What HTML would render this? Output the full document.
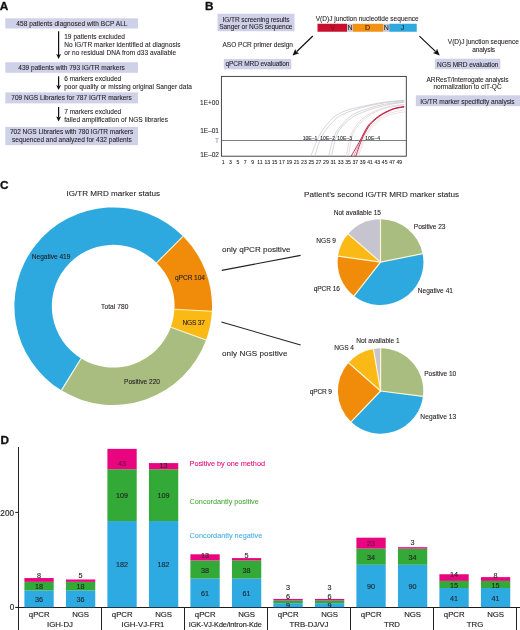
<!DOCTYPE html>
<html lang="en"><head><meta charset="utf-8"><title>Figure</title>
<style>
html,body{margin:0;padding:0;background:#fff;}
#fig{position:relative;width:520px;height:630px;overflow:hidden;background:#fff;font-family:"Liberation Sans",sans-serif;will-change:transform;}
#fig svg{position:absolute;left:0;top:0;}
#fig span{position:absolute;white-space:nowrap;line-height:1;display:block;-webkit-text-stroke:0.08px currentColor;}
</style></head>
<body>
<div id="fig">
<svg width="520" height="630" viewBox="0 0 520 630">
<rect x="5.30" y="18.30" width="132.70" height="10.20" fill="#cfd1e9"/>
<line x1="58.60" y1="31.20" x2="58.60" y2="54.90" stroke="#111" stroke-width="1.2"/>
<polygon points="58.60,58.90 56.20,53.90 58.60,55.10 61.00,53.90" fill="#111"/>
<rect x="5.30" y="62.25" width="132.70" height="10.55" fill="#cfd1e9"/>
<line x1="58.60" y1="76.20" x2="58.60" y2="86.10" stroke="#111" stroke-width="1.2"/>
<polygon points="58.60,90.10 56.20,85.10 58.60,86.30 61.00,85.10" fill="#111"/>
<rect x="5.30" y="92.40" width="132.70" height="11.00" fill="#cfd1e9"/>
<line x1="58.60" y1="107.00" x2="58.60" y2="117.40" stroke="#111" stroke-width="1.2"/>
<polygon points="58.60,121.40 56.20,116.40 58.60,117.60 61.00,116.40" fill="#111"/>
<rect x="5.30" y="126.90" width="132.70" height="18.30" fill="#cfd1e9"/>
<rect x="217.50" y="13.75" width="77.00" height="17.50" fill="#cfd1e9"/>
<rect x="223.80" y="59.00" width="67.50" height="10.30" fill="#cfd1e9"/>
<line x1="312.80" y1="36.00" x2="296.55" y2="51.77" stroke="#111" stroke-width="1.2"/>
<polygon points="292.60,55.60 295.18,48.92 296.40,51.91 299.35,53.23" fill="#111"/>
<rect x="317.50" y="23.75" width="29.50" height="8.00" fill="#c8102e"/>
<rect x="347.00" y="23.75" width="6.00" height="8.00" fill="#c9c8d0"/>
<rect x="353.00" y="23.75" width="30.00" height="8.00" fill="#f29112"/>
<rect x="383.00" y="23.75" width="6.25" height="8.00" fill="#c9c8d0"/>
<rect x="389.25" y="23.75" width="27.50" height="8.00" fill="#2ea9e0"/>
<line x1="419.40" y1="36.10" x2="435.71" y2="51.61" stroke="#111" stroke-width="1.2"/>
<polygon points="439.70,55.40 432.92,53.10 435.86,51.75 437.06,48.75" fill="#111"/>
<rect x="434.80" y="58.70" width="65.60" height="10.50" fill="#cfd1e9"/>
<rect x="415.80" y="95.30" width="104.20" height="10.90" fill="#cfd1e9"/>
<rect x="221.4" y="76.4" width="184.90" height="79.80" fill="#fff" stroke="#333" stroke-width="0.9"/>
<path d="M310.8,156.2 C311.9,153.5 315.1,144.7 317.1,140.3 C319.1,135.9 320.3,133.3 322.9,129.6 C325.5,125.9 329.6,120.9 332.7,118.1 C335.8,115.2 338.4,114.0 341.3,112.5 C344.2,111.0 346.6,110.3 350.0,109.3 C353.4,108.3 357.6,107.4 361.5,106.6 C365.4,105.8 369.2,105.0 373.1,104.2 C377.0,103.5 380.8,102.6 384.6,102.1 C388.5,101.5 392.9,101.2 396.2,100.9 C399.5,100.6 402.9,100.3 404.2,100.2" fill="none" stroke="#c4c4c9" stroke-width="0.7" stroke-opacity="1.0"/>
<path d="M314.8,156.2 C315.7,153.5 318.1,144.7 320.0,140.3 C321.9,135.9 323.5,133.3 326.3,129.6 C329.1,125.9 333.1,121.0 336.7,118.1 C340.3,115.2 343.6,114.0 347.7,112.3 C351.8,110.6 357.3,109.0 361.5,107.8 C365.7,106.6 369.2,105.7 373.1,104.9 C377.0,104.1 380.8,103.4 384.6,102.8 C388.5,102.2 392.9,101.8 396.2,101.5 C399.5,101.2 402.9,100.9 404.2,100.8" fill="none" stroke="#c4c4c9" stroke-width="0.7" stroke-opacity="1.0"/>
<path d="M328.7,156.2 C329.4,153.5 331.2,144.7 332.7,140.3 C334.2,135.9 335.3,133.3 337.9,129.6 C340.5,125.9 345.0,121.0 348.3,118.1 C351.6,115.2 353.4,114.1 357.5,112.3 C361.6,110.5 368.6,108.3 373.1,107.0 C377.6,105.7 380.8,105.0 384.6,104.3 C388.5,103.6 392.9,103.1 396.2,102.6 C399.5,102.1 402.9,101.7 404.2,101.5" fill="none" stroke="#c4c4c9" stroke-width="0.7" stroke-opacity="1.0"/>
<path d="M331.5,156.2 C332.1,153.5 333.8,144.7 335.2,140.3 C336.6,135.9 336.9,133.3 339.6,129.6 C342.3,125.9 347.4,121.0 351.2,118.1 C355.0,115.2 359.0,113.9 362.7,112.3 C366.4,110.7 369.5,109.7 373.1,108.6 C376.8,107.5 380.8,106.4 384.6,105.5 C388.5,104.6 392.9,103.9 396.2,103.4 C399.5,102.9 402.9,102.5 404.2,102.3" fill="none" stroke="#c4c4c9" stroke-width="0.7" stroke-opacity="1.0"/>
<path d="M346.5,156.2 C347.0,153.5 348.2,144.7 349.4,140.3 C350.6,135.9 351.5,133.1 353.5,129.6 C355.5,126.1 358.2,122.4 361.5,119.5 C364.8,116.6 369.2,114.0 373.1,112.0 C377.0,110.0 380.8,108.7 384.6,107.6 C388.5,106.5 392.9,105.9 396.2,105.4 C399.5,104.9 402.9,104.6 404.2,104.4" fill="none" stroke="#eccdd3" stroke-width="0.8" stroke-opacity="1.0"/>
<path d="M348.3,156.2 C348.8,153.5 350.1,144.7 351.2,140.3 C352.3,135.9 353.1,133.0 355.2,129.6 C357.3,126.2 360.8,122.5 363.8,119.8 C366.8,117.1 369.6,115.1 373.1,113.2 C376.6,111.3 380.8,109.7 384.6,108.5 C388.5,107.3 392.9,106.6 396.2,106.0 C399.5,105.4 402.9,105.1 404.2,104.9" fill="none" stroke="#d9d3d8" stroke-width="0.7" stroke-opacity="1.0"/>
<path d="M357.0,156.2 C358.0,153.5 361.0,145.1 363.2,140.3 C365.4,135.5 367.9,130.6 370.0,127.5 C372.1,124.4 373.6,123.6 376.0,121.6 C378.4,119.5 381.2,116.9 384.6,115.2 C388.0,113.5 392.9,112.3 396.2,111.4 C399.5,110.5 402.9,110.2 404.2,110.0" fill="none" stroke="#cfe0d6" stroke-width="0.7" stroke-opacity="1.0"/>
<path d="M358.4,156.2 C359.4,153.6 362.4,145.2 364.6,140.5 C366.8,135.9 369.3,131.1 371.4,128.0 C373.5,125.0 375.0,124.3 377.4,122.4 C379.8,120.4 382.6,117.9 386.0,116.3 C389.4,114.7 394.3,113.7 397.6,113.0 C400.9,112.2 404.3,112.1 405.6,111.9" fill="none" stroke="#eccdd3" stroke-width="0.6" stroke-opacity="1.0"/>
<path d="M353.8,156.2 C355.0,153.5 358.5,145.2 360.8,140.3 C363.1,135.4 365.7,130.2 367.8,126.9 C369.9,123.6 371.6,122.5 373.5,120.7 C375.4,118.9 377.2,117.4 379.1,116.1 C381.0,114.8 382.9,113.7 384.8,112.7 C386.7,111.7 388.6,110.8 390.5,110.0 C392.4,109.2 393.9,108.6 396.2,108.1 C398.5,107.6 402.9,107.0 404.2,106.8" fill="none" stroke="#d4627a" stroke-width="0.6" stroke-opacity="1.0"/>
<path d="M351.2,156.2 C352.7,153.5 357.5,145.2 360.2,140.3 C362.9,135.4 365.1,130.2 367.3,126.9 C369.5,123.6 371.2,122.4 373.1,120.6 C375.0,118.8 376.9,117.3 378.8,116.0 C380.7,114.7 382.7,113.5 384.6,112.5 C386.5,111.5 388.5,110.6 390.4,109.8 C392.3,109.0 393.9,108.5 396.2,107.9 C398.5,107.3 402.9,106.7 404.2,106.4" fill="none" stroke="#c2183c" stroke-width="0.9" stroke-opacity="1.0"/>
<path d="M355.8,156.2 C356.8,153.5 359.4,145.2 361.5,140.3 C363.6,135.4 366.4,130.2 368.5,126.9 C370.6,123.7 372.2,122.6 374.0,120.8 C375.8,119.0 377.7,117.6 379.5,116.3 C381.3,115.0 383.1,113.9 385.0,112.9 C386.9,111.9 388.7,111.0 390.6,110.2 C392.5,109.4 393.9,108.8 396.2,108.3 C398.5,107.8 402.9,107.3 404.2,107.1" fill="none" stroke="#c2183c" stroke-width="0.9" stroke-opacity="1.0"/>
<line x1="221.40" y1="140.50" x2="406.30" y2="140.50" stroke="#4f5a69" stroke-width="0.75"/>
<path d="M61.41,390.34 A98.8,98.8 0 1 1 183.06,236.34 L156.58,262.82 A61.35,61.35 0 1 0 81.04,358.44 Z" fill="#2ea9e0"/>
<path d="M183.06,236.34 A98.8,98.8 0 0 1 211.87,311.20 L174.47,309.30 A61.35,61.35 0 0 0 156.58,262.82 Z" fill="#f08c0a"/>
<path d="M211.87,311.20 A98.8,98.8 0 0 1 206.04,339.99 L170.85,327.18 A61.35,61.35 0 0 0 174.47,309.30 Z" fill="#fab914"/>
<path d="M206.04,339.99 A98.8,98.8 0 0 1 61.41,390.34 L81.04,358.44 A61.35,61.35 0 0 0 170.85,327.18 Z" fill="#aabd81"/>
<line x1="81.04" y1="358.44" x2="61.41" y2="390.34" stroke="#f6f8f0" stroke-width="1.1"/>
<line x1="156.58" y1="262.82" x2="183.06" y2="236.34" stroke="#fdf0d2" stroke-width="1.1"/>
<line x1="174.47" y1="309.30" x2="211.87" y2="311.20" stroke="#fff0b8" stroke-width="1.1"/>
<line x1="170.85" y1="327.18" x2="206.04" y2="339.99" stroke="#fbf3cf" stroke-width="1.1"/>
<line x1="221.80" y1="270.40" x2="300.60" y2="255.40" stroke="#222" stroke-width="1.1"/>
<line x1="221.40" y1="322.00" x2="300.60" y2="345.00" stroke="#222" stroke-width="1.1"/>
<path d="M380.50,262.10 L380.50,219.20 A42.9,42.9 0 0 1 422.57,253.69 Z" fill="#aabd81"/>
<path d="M380.50,262.10 L422.57,253.69 A42.9,42.9 0 0 1 354.09,295.91 Z" fill="#2ea9e0"/>
<path d="M380.50,262.10 L354.09,295.91 A42.9,42.9 0 0 1 338.02,256.13 Z" fill="#f08c0a"/>
<path d="M380.50,262.10 L338.02,256.13 A42.9,42.9 0 0 1 348.12,233.96 Z" fill="#fab914"/>
<path d="M380.50,262.10 L348.12,233.96 A42.9,42.9 0 0 1 380.50,219.20 Z" fill="#c6c5cf"/>
<line x1="380.50" y1="262.10" x2="380.50" y2="219.20" stroke="#fff4d2" stroke-width="1.2" stroke-linecap="round"/>
<line x1="380.50" y1="262.10" x2="422.57" y2="253.69" stroke="#fff4d2" stroke-width="1.2" stroke-linecap="round"/>
<line x1="380.50" y1="262.10" x2="354.09" y2="295.91" stroke="#fff4d2" stroke-width="1.2" stroke-linecap="round"/>
<line x1="380.50" y1="262.10" x2="338.02" y2="256.13" stroke="#fff4d2" stroke-width="1.2" stroke-linecap="round"/>
<line x1="380.50" y1="262.10" x2="348.12" y2="233.96" stroke="#fff4d2" stroke-width="1.2" stroke-linecap="round"/>
<path d="M380.60,391.00 L380.60,348.30 A42.7,42.7 0 0 1 422.95,396.42 Z" fill="#aabd81"/>
<path d="M380.60,391.00 L422.95,396.42 A42.7,42.7 0 0 1 351.05,421.83 Z" fill="#2ea9e0"/>
<path d="M380.60,391.00 L351.05,421.83 A42.7,42.7 0 0 1 348.55,362.79 Z" fill="#f08c0a"/>
<path d="M380.60,391.00 L348.55,362.79 A42.7,42.7 0 0 1 373.38,348.91 Z" fill="#fab914"/>
<path d="M380.60,391.00 L373.38,348.91 A42.7,42.7 0 0 1 380.60,348.30 Z" fill="#c6c5cf"/>
<line x1="380.60" y1="391.00" x2="380.60" y2="348.30" stroke="#fff4d2" stroke-width="1.2" stroke-linecap="round"/>
<line x1="380.60" y1="391.00" x2="422.95" y2="396.42" stroke="#fff4d2" stroke-width="1.2" stroke-linecap="round"/>
<line x1="380.60" y1="391.00" x2="351.05" y2="421.83" stroke="#fff4d2" stroke-width="1.2" stroke-linecap="round"/>
<line x1="380.60" y1="391.00" x2="348.55" y2="362.79" stroke="#fff4d2" stroke-width="1.2" stroke-linecap="round"/>
<line x1="380.60" y1="391.00" x2="373.38" y2="348.91" stroke="#fff4d2" stroke-width="1.2" stroke-linecap="round"/>
<line x1="18.50" y1="447.00" x2="18.50" y2="630.00" stroke="#222" stroke-width="1.0"/>
<line x1="18.00" y1="607.45" x2="520.00" y2="607.45" stroke="#1c1c1c" stroke-width="1.1"/>
<line x1="15.20" y1="512.40" x2="18.50" y2="512.40" stroke="#222" stroke-width="1.0"/>
<line x1="15.20" y1="607.45" x2="18.50" y2="607.45" stroke="#1c1c1c" stroke-width="1.1"/>
<line x1="101.50" y1="607.50" x2="101.50" y2="630.00" stroke="#222" stroke-width="1.0"/>
<line x1="184.50" y1="607.50" x2="184.50" y2="630.00" stroke="#222" stroke-width="1.0"/>
<line x1="267.50" y1="607.50" x2="267.50" y2="630.00" stroke="#222" stroke-width="1.0"/>
<line x1="350.50" y1="607.50" x2="350.50" y2="630.00" stroke="#222" stroke-width="1.0"/>
<line x1="433.50" y1="607.50" x2="433.50" y2="630.00" stroke="#222" stroke-width="1.0"/>
<line x1="516.50" y1="607.50" x2="516.50" y2="630.00" stroke="#222" stroke-width="1.0"/>
<rect x="24.40" y="590.40" width="29.30" height="16.80" fill="#2eaae2"/>
<rect x="24.40" y="581.85" width="29.30" height="8.55" fill="#33a938"/>
<rect x="24.40" y="578.05" width="29.30" height="3.80" fill="#e90580"/>
<rect x="65.95" y="590.40" width="29.30" height="16.80" fill="#2eaae2"/>
<rect x="65.95" y="581.85" width="29.30" height="8.55" fill="#33a938"/>
<rect x="65.95" y="579.48" width="29.30" height="2.38" fill="#e90580"/>
<rect x="107.40" y="521.05" width="29.30" height="86.15" fill="#2eaae2"/>
<rect x="107.40" y="469.27" width="29.30" height="51.77" fill="#33a938"/>
<rect x="107.40" y="448.85" width="29.30" height="20.43" fill="#e90580"/>
<rect x="148.95" y="521.05" width="29.30" height="86.15" fill="#2eaae2"/>
<rect x="148.95" y="469.27" width="29.30" height="51.77" fill="#33a938"/>
<rect x="148.95" y="463.10" width="29.30" height="6.18" fill="#e90580"/>
<rect x="190.40" y="578.52" width="29.30" height="28.68" fill="#2eaae2"/>
<rect x="190.40" y="560.48" width="29.30" height="18.05" fill="#33a938"/>
<rect x="190.40" y="554.30" width="29.30" height="6.17" fill="#e90580"/>
<rect x="231.95" y="578.52" width="29.30" height="28.68" fill="#2eaae2"/>
<rect x="231.95" y="560.48" width="29.30" height="18.05" fill="#33a938"/>
<rect x="231.95" y="558.10" width="29.30" height="2.38" fill="#e90580"/>
<rect x="273.40" y="603.23" width="29.30" height="3.98" fill="#2eaae2"/>
<rect x="273.40" y="600.38" width="29.30" height="2.85" fill="#33a938"/>
<rect x="273.40" y="598.95" width="29.30" height="1.42" fill="#e90580"/>
<rect x="314.95" y="603.23" width="29.30" height="3.98" fill="#2eaae2"/>
<rect x="314.95" y="600.38" width="29.30" height="2.85" fill="#33a938"/>
<rect x="314.95" y="598.95" width="29.30" height="1.42" fill="#e90580"/>
<rect x="356.40" y="564.75" width="29.30" height="42.45" fill="#2eaae2"/>
<rect x="356.40" y="548.60" width="29.30" height="16.15" fill="#33a938"/>
<rect x="356.40" y="537.68" width="29.30" height="10.92" fill="#e90580"/>
<rect x="397.95" y="564.75" width="29.30" height="42.45" fill="#2eaae2"/>
<rect x="397.95" y="548.60" width="29.30" height="16.15" fill="#33a938"/>
<rect x="397.95" y="547.18" width="29.30" height="1.42" fill="#e90580"/>
<rect x="439.40" y="588.02" width="29.30" height="19.18" fill="#2eaae2"/>
<rect x="439.40" y="580.90" width="29.30" height="7.12" fill="#33a938"/>
<rect x="439.40" y="574.25" width="29.30" height="6.65" fill="#e90580"/>
<rect x="480.95" y="588.02" width="29.30" height="19.18" fill="#2eaae2"/>
<rect x="480.95" y="580.90" width="29.30" height="7.12" fill="#33a938"/>
<rect x="480.95" y="577.10" width="29.30" height="3.80" fill="#e90580"/>
</svg>
<span style="top:0.94px;font-size:11.8px;color:#111;font-weight:bold;-webkit-text-stroke:0.3px #111;left:-0.27px;">A</span>
<span style="top:21.10px;font-size:6.55px;color:#231f20;letter-spacing:0.053px;left:16.25px;">458 patients diagnosed with BCP ALL</span>
<span style="top:34.30px;font-size:6.55px;color:#231f20;letter-spacing:0.039px;left:64.20px;">19 patients excluded</span>
<span style="top:42.30px;font-size:6.55px;color:#231f20;letter-spacing:0.044px;left:64.20px;">No IG/TR marker identified at diagnosis</span>
<span style="top:49.80px;font-size:6.55px;color:#231f20;letter-spacing:0.050px;left:64.20px;">or no residual DNA from d33 available</span>
<span style="top:64.70px;font-size:6.55px;color:#231f20;left:18.25px;">439 patients with 793 IG/TR markers</span>
<span style="top:75.90px;font-size:6.55px;color:#231f20;letter-spacing:-0.005px;left:64.20px;">6 markers excluded</span>
<span style="top:83.90px;font-size:6.55px;color:#231f20;letter-spacing:0.044px;left:64.20px;">poor quality or missing original Sanger data</span>
<span style="top:95.30px;font-size:6.55px;color:#231f20;letter-spacing:-0.008px;left:11.25px;">709 NGS Libraries for 787 IG/TR markers</span>
<span style="top:109.30px;font-size:6.55px;color:#231f20;letter-spacing:-0.005px;left:64.20px;">7 markers excluded</span>
<span style="top:116.80px;font-size:6.55px;color:#231f20;letter-spacing:0.053px;left:64.20px;">failed amplification of NGS libraries</span>
<span style="top:129.20px;font-size:6.55px;color:#231f20;letter-spacing:-0.040px;left:10.00px;">702 NGS Libraries with 780 IG/TR markers</span>
<span style="top:137.40px;font-size:6.55px;color:#231f20;left:12.00px;">sequenced and analyzed for 432 patients</span>
<span style="top:0.84px;font-size:11.8px;color:#111;font-weight:bold;-webkit-text-stroke:0.3px #111;left:205.08px;">B</span>
<span style="top:16.60px;font-size:6.55px;color:#231f20;letter-spacing:-0.080px;left:222.50px;">IG/TR screening results</span>
<span style="top:23.90px;font-size:6.55px;color:#231f20;letter-spacing:-0.083px;left:219.25px;">Sanger or NGS sequence</span>
<span style="top:42.20px;font-size:6.55px;color:#231f20;letter-spacing:-0.023px;left:222.50px;">ASO PCR primer design</span>
<span style="top:61.40px;font-size:6.55px;color:#231f20;letter-spacing:-0.103px;left:225.50px;">qPCR MRD evaluation</span>
<span style="top:16.25px;font-size:6.55px;color:#231f20;left:315.75px;">V(D)J junction nucleotide sequence</span>
<span style="top:24.40px;font-size:7px;color:#8e0b22;left:330.16px;">V</span>
<span style="top:24.40px;font-size:7px;color:#231f20;left:347.47px;">N</span>
<span style="top:24.40px;font-size:7px;color:#231f20;left:364.97px;">D</span>
<span style="top:24.40px;font-size:7px;color:#231f20;left:383.67px;">N</span>
<span style="top:24.40px;font-size:7px;color:#231f20;left:400.75px;">J</span>
<span style="top:38.50px;font-size:6.55px;color:#231f20;letter-spacing:-0.010px;left:447.80px;">V(D)J junction sequence</span>
<span style="top:46.60px;font-size:6.55px;color:#231f20;letter-spacing:-0.122px;left:472.20px;">analysis</span>
<span style="top:61.50px;font-size:6.55px;color:#231f20;letter-spacing:-0.070px;left:437.00px;">NGS MRD evaluation</span>
<span style="top:76.70px;font-size:6.55px;color:#231f20;letter-spacing:-0.066px;left:426.50px;">ARResT/Interrogate analysis</span>
<span style="top:84.10px;font-size:6.55px;color:#231f20;letter-spacing:-0.030px;left:433.50px;">normalization to cIT-QC</span>
<span style="top:98.90px;font-size:6.55px;color:#231f20;letter-spacing:-0.029px;left:420.20px;">IG/TR marker specificity analysis</span>
<span style="top:100.20px;font-size:6.5px;color:#231f20;left:200.02px;">1E+00</span>
<span style="top:127.50px;font-size:6.5px;color:#231f20;left:200.20px;">1E–01</span>
<span style="top:152.00px;font-size:6.5px;color:#231f20;left:200.20px;">1E–02</span>
<span style="top:137.70px;font-size:6.5px;color:#7f9bb5;left:215.02px;">T</span>
<span style="top:135.50px;font-size:5.1px;color:#231f20;letter-spacing:-0.059px;left:302.80px;">10E–1</span>
<span style="top:135.50px;font-size:5.1px;color:#231f20;letter-spacing:-0.009px;left:320.30px;">10E–2</span>
<span style="top:135.50px;font-size:5.1px;color:#231f20;letter-spacing:0.016px;left:337.20px;">10E–3</span>
<span style="top:135.50px;font-size:5.1px;color:#231f20;letter-spacing:-0.009px;left:365.30px;">10E–4</span>
<span style="top:160.10px;font-size:5.1px;color:#231f20;left:221.78px;">1</span>
<span style="top:160.10px;font-size:5.1px;color:#231f20;left:229.12px;">3</span>
<span style="top:160.10px;font-size:5.1px;color:#231f20;left:236.46px;">5</span>
<span style="top:160.10px;font-size:5.1px;color:#231f20;left:243.80px;">7</span>
<span style="top:160.10px;font-size:5.1px;color:#231f20;left:251.14px;">9</span>
<span style="top:160.10px;font-size:5.1px;color:#231f20;left:257.25px;">11</span>
<span style="top:160.10px;font-size:5.1px;color:#231f20;left:264.40px;">13</span>
<span style="top:160.10px;font-size:5.1px;color:#231f20;left:271.74px;">15</span>
<span style="top:160.10px;font-size:5.1px;color:#231f20;left:279.08px;">17</span>
<span style="top:160.10px;font-size:5.1px;color:#231f20;left:286.42px;">19</span>
<span style="top:160.10px;font-size:5.1px;color:#231f20;left:293.76px;">21</span>
<span style="top:160.10px;font-size:5.1px;color:#231f20;left:301.10px;">23</span>
<span style="top:160.10px;font-size:5.1px;color:#231f20;left:308.44px;">25</span>
<span style="top:160.10px;font-size:5.1px;color:#231f20;left:315.78px;">27</span>
<span style="top:160.10px;font-size:5.1px;color:#231f20;left:323.12px;">29</span>
<span style="top:160.10px;font-size:5.1px;color:#231f20;left:330.46px;">31</span>
<span style="top:160.10px;font-size:5.1px;color:#231f20;left:337.80px;">33</span>
<span style="top:160.10px;font-size:5.1px;color:#231f20;left:345.14px;">35</span>
<span style="top:160.10px;font-size:5.1px;color:#231f20;left:352.48px;">37</span>
<span style="top:160.10px;font-size:5.1px;color:#231f20;left:359.82px;">39</span>
<span style="top:160.10px;font-size:5.1px;color:#231f20;left:367.16px;">41</span>
<span style="top:160.10px;font-size:5.1px;color:#231f20;left:374.50px;">43</span>
<span style="top:160.10px;font-size:5.1px;color:#231f20;left:381.84px;">45</span>
<span style="top:160.10px;font-size:5.1px;color:#231f20;left:389.18px;">47</span>
<span style="top:160.10px;font-size:5.1px;color:#231f20;left:396.52px;">49</span>
<span style="top:179.74px;font-size:11.8px;color:#111;font-weight:bold;-webkit-text-stroke:0.3px #111;left:0.08px;">C</span>
<span style="top:190.10px;font-size:8.1px;color:#231f20;-webkit-text-stroke:0.1px currentColor;left:66.50px;">IG/TR MRD marker status</span>
<span style="top:190.80px;font-size:8.1px;color:#231f20;-webkit-text-stroke:0.1px currentColor;left:304.00px;">Patient’s second IG/TR MRD marker status</span>
<span style="top:253.50px;font-size:6.6px;color:#231f20;-webkit-text-stroke:0.1px currentColor;letter-spacing:-0.024px;left:31.80px;">Negative 419</span>
<span style="top:275.00px;font-size:6.6px;color:#231f20;-webkit-text-stroke:0.1px currentColor;letter-spacing:-0.062px;left:175.00px;">qPCR 104</span>
<span style="top:320.00px;font-size:6.6px;color:#231f20;-webkit-text-stroke:0.1px currentColor;letter-spacing:-0.194px;left:182.50px;">NGS 37</span>
<span style="top:379.00px;font-size:6.6px;color:#231f20;-webkit-text-stroke:0.1px currentColor;letter-spacing:0.007px;left:124.00px;">Positive 220</span>
<span style="top:304.00px;font-size:6.6px;color:#231f20;-webkit-text-stroke:0.1px currentColor;letter-spacing:0.092px;left:101.00px;">Total 780</span>
<span style="top:245.70px;font-size:8.1px;color:#231f20;-webkit-text-stroke:0.1px currentColor;letter-spacing:0.006px;left:222.00px;">only qPCR positive</span>
<span style="top:350.00px;font-size:8.1px;color:#231f20;-webkit-text-stroke:0.1px currentColor;letter-spacing:0.073px;left:222.00px;">only NGS positive</span>
<span style="top:209.50px;font-size:6.6px;color:#231f20;-webkit-text-stroke:0.1px currentColor;left:333.70px;">Not available 15</span>
<span style="top:224.20px;font-size:6.6px;color:#231f20;-webkit-text-stroke:0.1px currentColor;letter-spacing:-0.057px;left:413.80px;">Positive 23</span>
<span style="top:238.30px;font-size:6.6px;color:#231f20;-webkit-text-stroke:0.1px currentColor;letter-spacing:-0.024px;left:316.30px;">NGS 9</span>
<span style="top:285.70px;font-size:6.6px;color:#231f20;-webkit-text-stroke:0.1px currentColor;letter-spacing:-0.094px;left:313.70px;">qPCR 16</span>
<span style="top:288.00px;font-size:6.6px;color:#231f20;-webkit-text-stroke:0.1px currentColor;letter-spacing:0.010px;left:417.70px;">Negative 41</span>
<span style="top:337.80px;font-size:6.6px;color:#231f20;-webkit-text-stroke:0.1px currentColor;letter-spacing:-0.009px;left:356.20px;">Not available 1</span>
<span style="top:345.30px;font-size:6.6px;color:#231f20;-webkit-text-stroke:0.1px currentColor;letter-spacing:-0.024px;left:334.30px;">NGS 4</span>
<span style="top:370.80px;font-size:6.6px;color:#231f20;-webkit-text-stroke:0.1px currentColor;letter-spacing:-0.017px;left:424.20px;">Positive 10</span>
<span style="top:388.80px;font-size:6.6px;color:#231f20;-webkit-text-stroke:0.1px currentColor;letter-spacing:-0.179px;left:309.80px;">qPCR 9</span>
<span style="top:413.90px;font-size:6.6px;color:#231f20;-webkit-text-stroke:0.1px currentColor;letter-spacing:0.080px;left:420.30px;">Negative 13</span>
<span style="top:435.44px;font-size:11.8px;color:#111;font-weight:bold;-webkit-text-stroke:0.3px #111;left:0.58px;">D</span>
<span style="top:509.57px;font-size:8.2px;color:#231f20;-webkit-text-stroke:0.15px currentColor;left:0.33px;">200</span>
<span style="top:604.17px;font-size:8.2px;color:#231f20;-webkit-text-stroke:0.15px currentColor;left:9.84px;">0</span>
<span style="top:460.30px;font-size:7.3px;color:#e6007e;-webkit-text-stroke:0.06px currentColor;letter-spacing:-0.022px;left:189.60px;">Positive by one method</span>
<span style="top:497.70px;font-size:7.3px;color:#4aa83c;-webkit-text-stroke:0.06px currentColor;letter-spacing:-0.028px;left:189.60px;">Concordantly positive</span>
<span style="top:531.50px;font-size:7.3px;color:#3fa9e6;-webkit-text-stroke:0.06px currentColor;left:189.60px;">Concordantly negative</span>
<span style="top:595.85px;font-size:7.2px;color:#1f2a33;-webkit-text-stroke:0.15px currentColor;left:35.05px;">36</span>
<span style="top:583.23px;font-size:7.2px;color:#222a22;-webkit-text-stroke:0.15px currentColor;left:35.05px;">18</span>
<span style="top:572.00px;font-size:7.2px;color:#33262c;-webkit-text-stroke:0.15px currentColor;left:37.05px;">8</span>
<span style="top:611.00px;font-size:7.8px;color:#231f20;-webkit-text-stroke:0.15px currentColor;left:28.84px;">qPCR</span>
<span style="top:595.85px;font-size:7.2px;color:#1f2a33;-webkit-text-stroke:0.15px currentColor;left:76.60px;">36</span>
<span style="top:583.23px;font-size:7.2px;color:#222a22;-webkit-text-stroke:0.15px currentColor;left:76.60px;">18</span>
<span style="top:572.00px;font-size:7.2px;color:#33262c;-webkit-text-stroke:0.15px currentColor;left:78.60px;">5</span>
<span style="top:611.00px;font-size:7.8px;color:#231f20;-webkit-text-stroke:0.15px currentColor;left:72.15px;">NGS</span>
<span style="top:561.17px;font-size:7.2px;color:#1f2a33;-webkit-text-stroke:0.15px currentColor;left:116.05px;">182</span>
<span style="top:492.26px;font-size:7.2px;color:#222a22;-webkit-text-stroke:0.15px currentColor;left:116.05px;">109</span>
<span style="top:459.90px;font-size:7.2px;color:#6b0f40;-webkit-text-stroke:0.15px currentColor;left:118.05px;">43</span>
<span style="top:611.00px;font-size:7.8px;color:#231f20;-webkit-text-stroke:0.15px currentColor;left:111.84px;">qPCR</span>
<span style="top:561.17px;font-size:7.2px;color:#1f2a33;-webkit-text-stroke:0.15px currentColor;left:157.60px;">182</span>
<span style="top:492.26px;font-size:7.2px;color:#222a22;-webkit-text-stroke:0.15px currentColor;left:157.60px;">109</span>
<span style="top:462.00px;font-size:7.2px;color:#33262c;-webkit-text-stroke:0.15px currentColor;left:159.60px;">13</span>
<span style="top:611.00px;font-size:7.8px;color:#231f20;-webkit-text-stroke:0.15px currentColor;left:155.15px;">NGS</span>
<span style="top:589.91px;font-size:7.2px;color:#1f2a33;-webkit-text-stroke:0.15px currentColor;left:201.05px;">61</span>
<span style="top:566.60px;font-size:7.2px;color:#222a22;-webkit-text-stroke:0.15px currentColor;left:201.05px;">38</span>
<span style="top:551.50px;font-size:7.2px;color:#33262c;-webkit-text-stroke:0.15px currentColor;left:201.05px;">13</span>
<span style="top:611.00px;font-size:7.8px;color:#231f20;-webkit-text-stroke:0.15px currentColor;left:194.84px;">qPCR</span>
<span style="top:589.91px;font-size:7.2px;color:#1f2a33;-webkit-text-stroke:0.15px currentColor;left:242.60px;">61</span>
<span style="top:566.60px;font-size:7.2px;color:#222a22;-webkit-text-stroke:0.15px currentColor;left:242.60px;">38</span>
<span style="top:551.80px;font-size:7.2px;color:#33262c;-webkit-text-stroke:0.15px currentColor;left:244.60px;">5</span>
<span style="top:611.00px;font-size:7.8px;color:#231f20;-webkit-text-stroke:0.15px currentColor;left:238.15px;">NGS</span>
<span style="top:601.50px;font-size:7.2px;color:#1f2a33;-webkit-text-stroke:0.15px currentColor;left:286.05px;">9</span>
<span style="top:592.50px;font-size:7.2px;color:#222a22;-webkit-text-stroke:0.15px currentColor;left:286.05px;">6</span>
<span style="top:583.80px;font-size:7.2px;color:#33262c;-webkit-text-stroke:0.15px currentColor;left:286.05px;">3</span>
<span style="top:611.00px;font-size:7.8px;color:#231f20;-webkit-text-stroke:0.15px currentColor;left:277.84px;">qPCR</span>
<span style="top:601.50px;font-size:7.2px;color:#1f2a33;-webkit-text-stroke:0.15px currentColor;left:327.60px;">9</span>
<span style="top:592.50px;font-size:7.2px;color:#222a22;-webkit-text-stroke:0.15px currentColor;left:327.60px;">6</span>
<span style="top:583.80px;font-size:7.2px;color:#33262c;-webkit-text-stroke:0.15px currentColor;left:327.60px;">3</span>
<span style="top:611.00px;font-size:7.8px;color:#231f20;-webkit-text-stroke:0.15px currentColor;left:321.15px;">NGS</span>
<span style="top:583.02px;font-size:7.2px;color:#1f2a33;-webkit-text-stroke:0.15px currentColor;left:367.05px;">90</span>
<span style="top:553.77px;font-size:7.2px;color:#222a22;-webkit-text-stroke:0.15px currentColor;left:367.05px;">34</span>
<span style="top:539.70px;font-size:7.2px;color:#6b0f40;-webkit-text-stroke:0.15px currentColor;left:367.05px;">23</span>
<span style="top:611.00px;font-size:7.8px;color:#231f20;-webkit-text-stroke:0.15px currentColor;left:360.84px;">qPCR</span>
<span style="top:583.02px;font-size:7.2px;color:#1f2a33;-webkit-text-stroke:0.15px currentColor;left:408.60px;">90</span>
<span style="top:553.77px;font-size:7.2px;color:#222a22;-webkit-text-stroke:0.15px currentColor;left:408.60px;">34</span>
<span style="top:539.00px;font-size:7.2px;color:#33262c;-webkit-text-stroke:0.15px currentColor;left:410.60px;">3</span>
<span style="top:611.00px;font-size:7.8px;color:#231f20;-webkit-text-stroke:0.15px currentColor;left:404.15px;">NGS</span>
<span style="top:594.66px;font-size:7.2px;color:#1f2a33;-webkit-text-stroke:0.15px currentColor;left:450.05px;">41</span>
<span style="top:581.56px;font-size:7.2px;color:#222a22;-webkit-text-stroke:0.15px currentColor;left:450.05px;">15</span>
<span style="top:570.70px;font-size:7.2px;color:#33262c;-webkit-text-stroke:0.15px currentColor;left:450.05px;">14</span>
<span style="top:611.00px;font-size:7.8px;color:#231f20;-webkit-text-stroke:0.15px currentColor;left:443.84px;">qPCR</span>
<span style="top:594.66px;font-size:7.2px;color:#1f2a33;-webkit-text-stroke:0.15px currentColor;left:491.60px;">41</span>
<span style="top:581.56px;font-size:7.2px;color:#222a22;-webkit-text-stroke:0.15px currentColor;left:491.60px;">15</span>
<span style="top:572.40px;font-size:7.2px;color:#33262c;-webkit-text-stroke:0.15px currentColor;left:493.60px;">8</span>
<span style="top:611.00px;font-size:7.8px;color:#231f20;-webkit-text-stroke:0.15px currentColor;left:487.15px;">NGS</span>
<span style="top:621.10px;font-size:7.8px;color:#231f20;-webkit-text-stroke:0.15px currentColor;left:47.00px;">IGH-DJ</span>
<span style="top:621.10px;font-size:7.8px;color:#231f20;-webkit-text-stroke:0.15px currentColor;left:121.55px;">IGH-VJ-FR1</span>
<span style="top:620.90px;font-size:7.27px;color:#231f20;-webkit-text-stroke:0.15px currentColor;letter-spacing:-0.061px;left:188.70px;">IGK-VJ-Kde/intron-Kde</span>
<span style="top:621.10px;font-size:7.8px;color:#231f20;-webkit-text-stroke:0.15px currentColor;left:289.50px;">TRB-DJ/VJ</span>
<span style="top:621.10px;font-size:7.8px;color:#231f20;-webkit-text-stroke:0.15px currentColor;left:383.98px;">TRD</span>
<span style="top:621.10px;font-size:7.8px;color:#231f20;-webkit-text-stroke:0.15px currentColor;left:466.77px;">TRG</span>
</div>
</body></html>
